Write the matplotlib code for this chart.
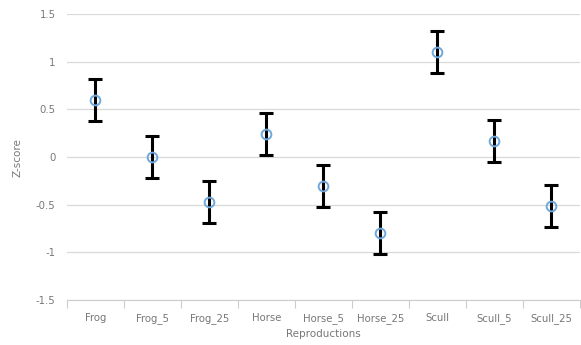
import matplotlib
matplotlib.use('Agg')
from matplotlib import pyplot as plt
import numpy as np

categories = ['Frog', 'Frog_5', 'Frog_25', 'Horse', 'Horse_5', 'Horse_25',
              'Scull', 'Scull_5', 'Scull_25']
z_scores = [0.60, 0.00, -0.47, 0.24, -0.30, -0.80, 1.10, 0.17, -0.51]
errors = [0.22, 0.22, 0.22, 0.22, 0.22, 0.22, 0.22, 0.22, 0.22]
y_ticks = [-1.5, -1, -0.5, 0, 0.5, 1, 1.5]
y_labels = ['-1.5', '-1', '-0.5', '0', '0.5', '1', '1.5']

fig = plt.figure(figsize=(5.81, 3.45), dpi=100)
ax = fig.add_axes([0.115, 0.13, 0.883, 0.829])

x = np.arange(len(categories))
ax.errorbar(x, z_scores, yerr=errors, fmt='none', ecolor='black',
            elinewidth=2.2, capsize=5, capthick=2.2, zorder=3)
ax.plot(x, z_scores, 'o', markerfacecolor='none', markeredgecolor='#6fa8dc',
        markeredgewidth=1.4, markersize=7, zorder=4)

ax.set_xlim(-0.5, len(categories) - 0.5)
ax.set_ylim(-1.5, 1.5)
ax.set_yticks(y_ticks)
ax.set_yticklabels(y_labels)
ax.set_xticks(x)
ax.set_xticklabels(categories)

# ticks between categories
ax.set_xticks(np.arange(-0.5, len(categories), 1), minor=True)
ax.tick_params(axis='x', which='major', length=0, pad=9, labelsize=7.3, labelcolor='#777777')
ax.tick_params(axis='x', which='minor', length=6, color='#cccccc', width=0.8)
ax.tick_params(axis='y', length=0, pad=8, labelsize=7.3, labelcolor='#777777')

ax.grid(axis='y', color='#d9d9d9', linewidth=0.9)
ax.set_axisbelow(True)
for s in ['top', 'right', 'left']:
    ax.spines[s].set_visible(False)
ax.spines['bottom'].set_color('#cccccc')
ax.spines['bottom'].set_linewidth(0.8)

ax.set_ylabel('Z-score', fontsize=7.5, color='#777777', labelpad=10)
ax.set_xlabel('Reproductions', fontsize=7.5, color='#777777', labelpad=4)

plt.savefig('out.png', dpi=100)
